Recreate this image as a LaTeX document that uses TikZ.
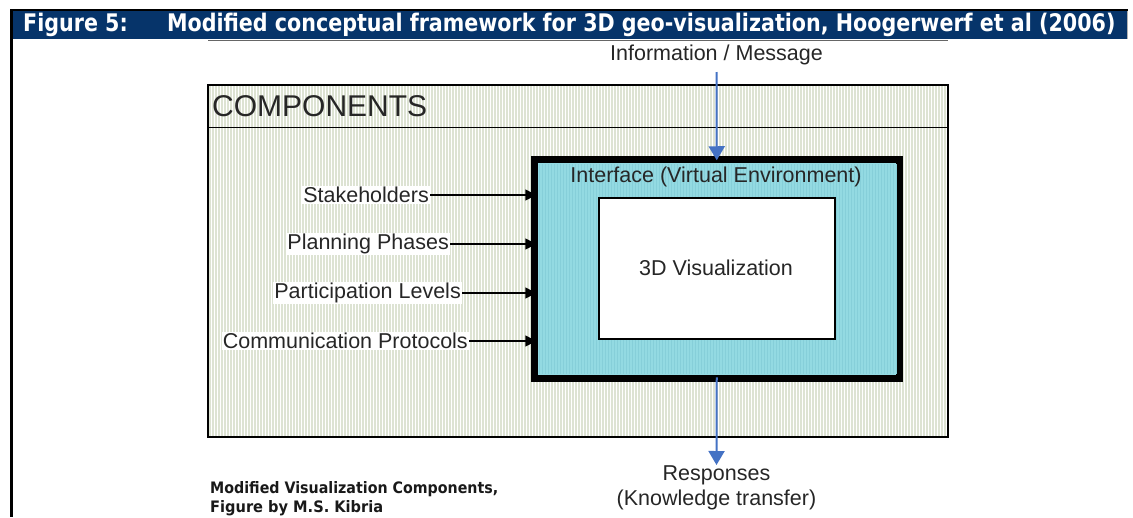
\documentclass[tikz,border=0pt]{standalone}
\usepackage{fontspec}
\setmainfont{Liberation Sans}
\newfontfamily\titlefont{DejaVu Sans}
\usetikzlibrary{arrows.meta}
\definecolor{navy}{HTML}{06346A}
\definecolor{stripe}{HTML}{DDE3D3}
\definecolor{cyanfill}{HTML}{93DAE2}
\definecolor{cyanstripe}{HTML}{86CFD9}
\definecolor{flowblue}{HTML}{4472C4}
\tikzset{
  lbl/.style={font=\fontsize{21.5}{25}\selectfont, text=black!85, inner sep=1pt},
  inarrow/.style={line width=1.6pt, -{Triangle[length=11pt,width=11pt]}},
  bluearrow/.style={draw=flowblue, line width=2pt, -{Triangle[length=14pt,width=16pt]}, flowblue},
}
\begin{document}
\begin{tikzpicture}[x=1pt,y=-1pt]
\useasboundingbox (0,0) rectangle (1133,517);
% page frame and title bar
\fill[navy] (12,11) rectangle (1127,39);
\draw[line width=2pt] (10,10) -- (1128,10);
\draw[black!30, line width=0.8pt] (1127.5,11) -- (1127.5,39);
\draw[line width=2.6pt] (11.3,9) -- (11.3,517);
\draw[black!60, line width=1pt] (208,40) -- (948,40);
\node[anchor=base west, inner sep=0pt, text=white] (title) at (23,31.7)
  {\resizebox{1092pt}{18.4pt}{\titlefont\bfseries Figure 5:\hspace{1.9em}Modified conceptual framework for 3D geo-visualization, Hoogerwerf et al (2006)}};
% components box
\fill[white] (208,85) rectangle (948,437);
\foreach \x in {210,213,...,947} \draw[stripe, line width=1.2pt] (\x,86) -- (\x,436);
\draw[line width=1.5pt] (208,85) rectangle (948,437);
\draw[line width=1.5pt] (208,127.5) -- (948,127.5);
\node[anchor=west, inner sep=0pt, font=\fontsize{30}{32}\selectfont, text=black!85] (comp) at (212,106) {COMPONENTS};
% interface box
\node[draw, line width=4.5pt, fill=cyanfill, minimum width=362.5pt, minimum height=216.5pt, inner sep=0pt] (iface) at (716.75,268.75) {};
\foreach \x in {539,542,...,896} \draw[cyanstripe, line width=0.8pt] (\x,164) -- (\x,374);
\draw[line width=4.5pt] (iface.south west) rectangle (iface.north east);
\node[lbl] (ifl) at (716,177) {Interface (Virtual Environment)};
\node[draw, line width=1.5pt, fill=white, minimum width=236pt, minimum height=141pt, inner sep=0pt] (vis) at (717,268.5) {};
\node[lbl] (visl) at (716,268) {3D Visualization};
% inputs
\node[lbl, fill=white, anchor=east] (stake) at (430,195) {Stakeholders};
\node[lbl, fill=white, anchor=east] (plan) at (450,244) {Planning Phases};
\node[lbl, fill=white, anchor=east] (part) at (462,293) {Participation Levels};
\node[lbl, fill=white, anchor=east] (comm) at (469,341) {Communication Protocols};
\foreach \n in {stake,plan,part,comm}
  \draw[inarrow] (\n.east) -- ([xshift=3pt]\n.east -| iface.west);
% information flow
\node[lbl] (info) at (716.5,55) {Information / Message};
\coordinate (infoend) at (716.5,72);
\draw[bluearrow] (infoend) -- ([yshift=-2pt]iface.north);
\node[lbl, align=center, anchor=north] (resp) at (716.5,465) {Responses\\(Knowledge transfer)};
\draw[bluearrow] ([yshift=2pt]iface.south) -- (resp.north);
% caption
\node[anchor=base west, inner sep=0pt, text=black!90] (cap1) at (210,493.5)
  {\resizebox{288pt}{12pt}{\titlefont\bfseries Modified Visualization Components,}};
\node[anchor=base west, inner sep=0pt, text=black!90] (cap2) at (210,512.5)
  {\resizebox{173pt}{12pt}{\titlefont\bfseries Figure by M.S. Kibria}};
\end{tikzpicture}
\end{document}
